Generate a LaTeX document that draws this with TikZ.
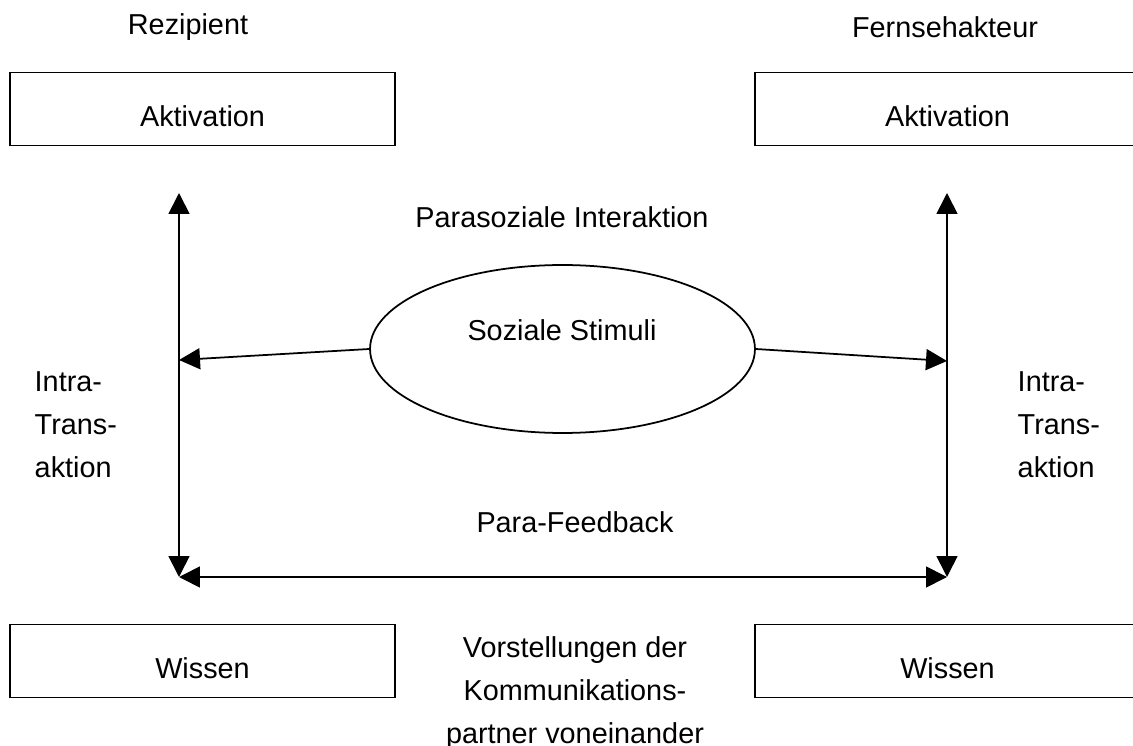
\documentclass[tikz,border=0pt]{standalone}
\usepackage{fontspec}
\setmainfont{Liberation Sans}
\usetikzlibrary{positioning,arrows.meta,shapes}

\begin{document}
\begin{tikzpicture}[x=0.02cm,y=-0.02cm]
\tikzstyle{every path}=[line width=1pt]
\tikzstyle{every node}=[font=\fontsize{16.4}{24.5}\selectfont]
\tikzstyle{wordbox}=[draw,minimum width=7.7cm,minimum height=1.46cm,inner sep=0pt,
  text height=0.72cm,text depth=0pt]
\tikzstyle{pfeil}=[-{Triangle[length=0.42cm,width=0.42cm]}]
\tikzstyle{doppelpfeil}=[{Triangle[length=0.42cm,width=0.42cm]}-{Triangle[length=0.42cm,width=0.42cm]}]

\useasboundingbox (0,0) rectangle (1133,746);

%% Die beiden Partner
\node (rezip) at (188,27) {Rezipient};
\node (fernseh) at (945,27) {Fernsehakteur};
\node [wordbox] (aktL) at (202.5,109) {Aktivation};
\node [wordbox] (aktR) at (947.5,109) {Aktivation};
\node [wordbox] (wisL) at (202.5,661) {Wissen};
\node [wordbox] (wisR) at (947.5,661) {Wissen};

%% Soziale Stimuli in der Mitte
\node [ellipse,draw,minimum width=7.7cm,minimum height=3.36cm,inner sep=0pt] (stimuli) at (562.5,349) {};
\node (stimtxt) at (562,330) {Soziale Stimuli};

% Ecken der Pfeile
\coordinate (lo) at (179,193);
\coordinate (lu) at (179,577);
\coordinate (ro) at (947,193);
\coordinate (ru) at (947,577);
\coordinate (lm) at (179,360);
\coordinate (rm) at (947,361);

\draw [doppelpfeil] (lo) -- (lu);
\draw [doppelpfeil] (ro) -- (ru);
\draw [doppelpfeil] (lu) -- (ru);
\draw [pfeil] (stimuli.west) -- (lm);
\draw [pfeil] (stimuli.east) -- (rm);

%% Beschriftungen
\node (para) at (562,217) {Parasoziale Interaktion};
\node (feedback) at (575,522) {Para-Feedback};
\node [anchor=west,align=left] (intraL) at (28,425) {Intra-\\Trans-\\aktion};
\node [anchor=west,align=left] (intraR) at (1011,425) {Intra-\\Trans-\\aktion};
\node [align=center] (vorst) at (575,693) {Vorstellungen der\\Kommunikations-\\partner voneinander};

\end{tikzpicture}
\end{document}
